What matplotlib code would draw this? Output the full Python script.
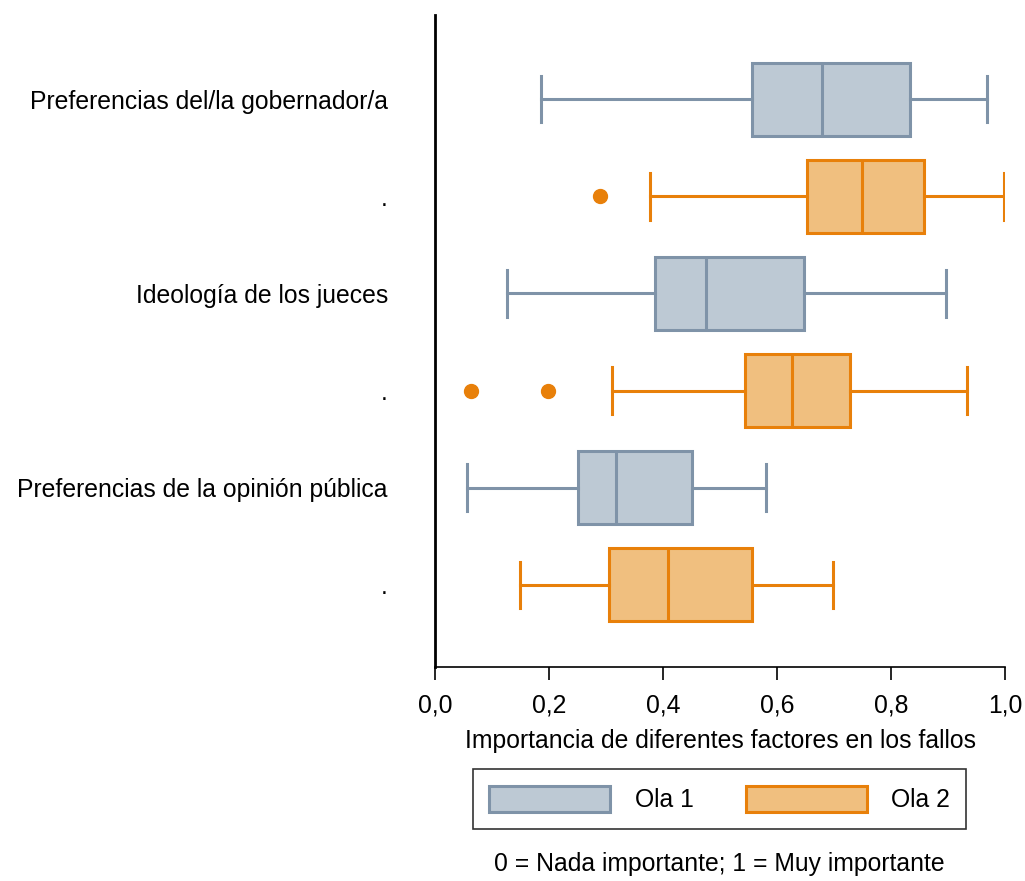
import matplotlib.pyplot as plt
from matplotlib.patches import Patch

plt.rcParams['font.family'] = ['Liberation Sans', 'DejaVu Sans']

# Filas de arriba hacia abajo
row_labels = ['Preferencias del/la gobernador/a', '.',
              'Ideología de los jueces', '.',
              'Preferencias de la opinión pública', '.']
olas = ['Ola 1', 'Ola 2', 'Ola 1', 'Ola 2', 'Ola 1', 'Ola 2']

whislo = [0.186, 0.377, 0.126, 0.311, 0.056, 0.149]
q1 = [0.556, 0.653, 0.386, 0.544, 0.251, 0.305]
med = [0.679, 0.749, 0.475, 0.626, 0.318, 0.409]
q3 = [0.833, 0.858, 0.647, 0.728, 0.451, 0.556]
whishi = [0.968, 0.998, 0.896, 0.933, 0.581, 0.698]
fliers = [[], [0.289], [], [0.063, 0.198], [], []]

colores = {'Ola 1': ('#bdc9d4', '#7f93a8'),
           'Ola 2': ('#f0bf7f', '#e8800a')}

fs = 17.8

fig = plt.figure(figsize=(10.25, 8.81), dpi=100)
ax = fig.add_axes([0.4244, 0.2429, 0.5561, 0.7401])

posiciones = list(range(1, len(row_labels) + 1))
for i, pos in enumerate(posiciones):
    fill, edge = colores[olas[i]]
    stats = [dict(whislo=whislo[i], q1=q1[i], med=med[i], q3=q3[i],
                  whishi=whishi[i], fliers=fliers[i])]
    ax.bxp(stats, positions=[pos], widths=0.75, capwidths=0.48,
           orientation='horizontal', patch_artist=True,
           boxprops=dict(facecolor=fill, edgecolor=edge, linewidth=2.2),
           medianprops=dict(color=edge, linewidth=2.2),
           whiskerprops=dict(color=edge, linewidth=2.2),
           capprops=dict(color=edge, linewidth=2.2),
           flierprops=dict(marker='o', markerfacecolor=edge,
                           markeredgecolor=edge, markersize=10))

ax.set_ylim(6.845, 0.134)
ax.set_xlim(0, 1)
ax.set_yticks(posiciones)
ax.set_yticklabels(row_labels, fontsize=fs)
ax.tick_params(axis='y', length=0, pad=34)
ax.set_xticks([0, 0.2, 0.4, 0.6, 0.8, 1.0])
ax.set_xticklabels(['0,0', '0,2', '0,4', '0,6', '0,8', '1,0'], fontsize=fs)
ax.tick_params(axis='x', length=9, width=1.2, pad=10)
ax.set_xlabel('Importancia de diferentes factores en los fallos', fontsize=fs, labelpad=8)

ax.spines['top'].set_visible(False)
ax.spines['right'].set_visible(False)
ax.spines['left'].set_linewidth(2)
ax.spines['bottom'].set_linewidth(1.2)

handles = [Patch(facecolor=colores[o][0], edgecolor=colores[o][1], linewidth=2.2, label=o)
           for o in ['Ola 1', 'Ola 2']]
leg = fig.legend(handles=handles, loc='center', bbox_to_anchor=(0.702, 0.0931),
                 ncol=2, fontsize=fs, frameon=True, fancybox=False,
                 handlelength=4.9, handleheight=1.3, columnspacing=2.1,
                 handletextpad=1.0, borderpad=0.65, edgecolor='black')
leg.get_frame().set_linewidth(1.2)

fig.text(0.702, 0.0193, '0 = Nada importante; 1 = Muy importante',
         ha='center', va='center', fontsize=fs)

fig.savefig('out.png', dpi=100, facecolor='white')
